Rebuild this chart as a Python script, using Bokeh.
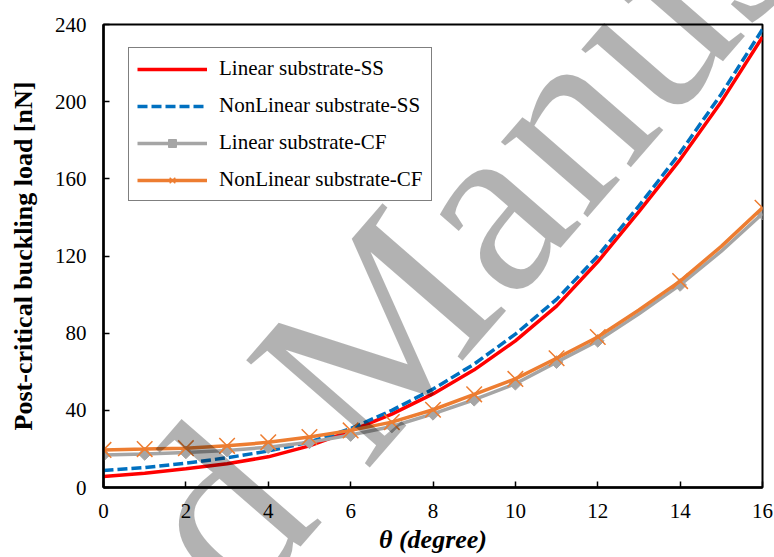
from bokeh.plotting import figure
from bokeh.models import Range1d, Legend, LegendItem, FixedTicker
from bokeh.core.properties import value
from bokeh.embed import file_html
from bokeh.resources import INLINE
import math

# ---- data ----
theta_ss = [0, 1, 2, 3, 4, 5, 6, 7, 8, 9, 10, 11, 12, 13, 14, 15, 16]
linear_ss = [5.7, 7.4, 9.7, 12.3, 15.9, 21.6, 29.3, 38.0, 48.5, 61.0, 76.0, 94.0, 117.0, 143.0, 170.0, 200.0, 233.5]
nonlinear_ss = [8.8, 10.3, 12.6, 15.4, 18.9, 23.6, 30.5, 40.0, 51.0, 64.0, 79.5, 97.5, 120.0, 146.0, 173.5, 204.0, 237.5]

theta_cf = [0, 1, 2, 3, 4, 5, 6, 7, 8, 9, 10, 11, 12, 13, 14, 15, 16]
linear_cf = [16.9, 17.4, 18.2, 19.2, 20.9, 23.4, 27.2, 31.6, 38.2, 45.5, 53.8, 65.0, 76.0, 90.0, 105.0, 122.5, 142.0]
nonlinear_cf = [19.5, 19.9, 20.4, 21.6, 23.4, 26.2, 29.6, 33.9, 40.3, 48.3, 56.3, 67.0, 78.0, 92.0, 107.0, 125.0, 145.0]

marker_theta = [0, 1, 2, 3, 4, 5, 6, 7, 8, 9, 10, 11, 12, 14, 16]
linear_cf_marks = [16.9, 17.4, 18.2, 19.2, 20.9, 23.4, 27.2, 31.6, 38.2, 45.5, 53.8, 65.0, 76.0, 105.0, 142.0]
nonlinear_cf_marks = [19.5, 19.9, 20.4, 21.6, 23.4, 26.2, 29.6, 33.9, 40.3, 48.3, 56.3, 67.0, 78.0, 107.0, 145.0]

x_ticks = [0, 2, 4, 6, 8, 10, 12, 14, 16]
y_ticks = [0, 40, 80, 120, 160, 200, 240]

labels = ["Linear substrate-SS", "NonLinear substrate-SS", "Linear substrate-CF", "NonLinear substrate-CF"]
colors = ["#FF0000", "#0070C0", "#A5A5A5", "#ED7D31"]

FONT = "'Liberation Serif', 'Times New Roman', Times, serif"

p = figure(width=774, height=557, output_backend="svg", toolbar_location=None,
           x_range=Range1d(0, 16), y_range=Range1d(0, 240),
           min_border_left=103, min_border_right=12, min_border_top=24, min_border_bottom=70)

p.xgrid.visible = False
p.ygrid.visible = False
p.outline_line_color = "black"
p.outline_line_width = 2
p.background_fill_color = "white"
p.border_fill_color = "white"

p.xaxis.ticker = FixedTicker(ticks=x_ticks)
p.yaxis.ticker = FixedTicker(ticks=y_ticks)
for ax in (p.xaxis[0], p.yaxis[0]):
    ax.axis_line_color = "black"
    ax.axis_line_width = 2.5
    ax.major_tick_line_color = "black"
    ax.major_tick_line_width = 1.5
    ax.major_tick_in = 6
    ax.major_tick_out = 0
    ax.minor_tick_line_color = None
    ax.major_label_text_font = FONT
    ax.major_label_text_font_size = "21px"
    ax.major_label_text_color = "black"
    ax.major_label_text_line_height = 1.0
    ax.axis_label_text_font = FONT
    ax.axis_label_text_font_size = "26px"
    ax.axis_label_text_color = "black"
    ax.axis_label_text_line_height = 1.0

p.xaxis.axis_label = "θ (degree)"
p.xaxis.axis_label_text_font_style = "bold italic"
p.xaxis.major_label_standoff = 16
p.xaxis.axis_label_standoff = 4
p.yaxis.axis_label = "Post-critical buckling load [nN]"
p.yaxis.axis_label_text_font_style = "bold"
p.yaxis.major_label_standoff = 17
p.yaxis.axis_label_standoff = 14

r1 = p.line(theta_ss, linear_ss, line_color=colors[0], line_width=3.5)
r2 = p.line(theta_ss, nonlinear_ss, line_color=colors[1], line_width=3.5, line_dash="10 4")
r3 = p.line(theta_cf, linear_cf, line_color=colors[2], line_width=3.5)
m3 = p.scatter(marker_theta, linear_cf_marks, marker="square", size=9, angle=math.pi / 4,
               fill_color=colors[2], line_color=colors[2])
r4 = p.line(theta_cf, nonlinear_cf, line_color=colors[3], line_width=3.5)
m4 = p.scatter(marker_theta, nonlinear_cf_marks, marker="x", size=22,
               line_color=colors[3], line_width=1.5)

legend = Legend(items=[
    LegendItem(label=labels[0], renderers=[r1]),
    LegendItem(label=labels[1], renderers=[r2]),
    LegendItem(label=labels[2], renderers=[r3, m3]),
    LegendItem(label=labels[3], renderers=[r4, m4]),
], location=(25, 286))
legend.label_text_font = FONT
legend.label_text_font_size = "21px"
legend.label_text_color = "black"
legend.glyph_width = 70
legend.glyph_height = 20
legend.label_height = 20
legend.spacing = 12
legend.padding = 8
legend.label_standoff = 12
legend.border_line_color = "black"
legend.border_line_width = 1.5
legend.background_fill_alpha = 1.0
p.add_layout(legend, "center")

# watermark ("Accepted Manuscript")
WM_ANGLE = 0.855
p.text(x=[4.80], y=[36.3], text=["Manuscript"], angle=WM_ANGLE,
       text_font=value(FONT), text_font_size=value("250px"), text_color="black",
       text_alpha=0.3, text_align="left", text_baseline="alphabetic", level="overlay")
p.text(x=[3.80], y=[12.0], text=["Accepted"], angle=WM_ANGLE,
       text_font=value(FONT), text_font_size=value("250px"), text_color="black",
       text_alpha=0.3, text_align="right", text_baseline="alphabetic", level="overlay")

open("out.html", "w").write(file_html(p, INLINE))
